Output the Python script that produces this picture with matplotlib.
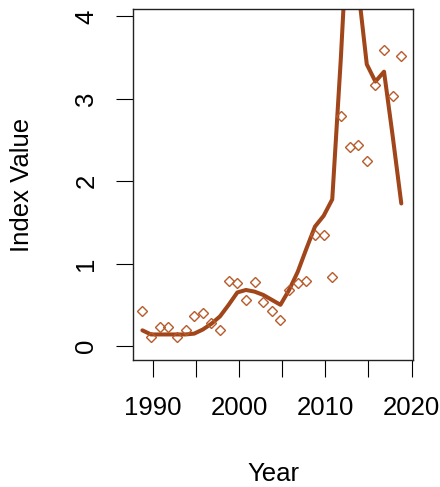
import numpy as np
import matplotlib
matplotlib.use('Agg')
import matplotlib.pyplot as plt

plt.rcParams['font.family'] = ['Liberation Sans', 'DejaVu Sans']

# observed index values (open diamonds)
years = [1988.8, 1989.8, 1990.8, 1991.8, 1992.8, 1993.8, 1994.8, 1995.8,
         1996.8, 1997.8, 1998.8, 1999.8, 2000.8, 2001.8, 2002.8, 2003.8,
         2004.8, 2005.8, 2006.8, 2007.8, 2008.8, 2009.8, 2010.8, 2011.8,
         2012.8, 2013.8, 2014.8, 2015.8, 2016.8, 2017.8, 2018.8]
obs = [0.43, 0.11, 0.23, 0.23, 0.11, 0.20, 0.36, 0.40,
       0.28, 0.19, 0.79, 0.76, 0.56, 0.78, 0.54, 0.42,
       0.32, 0.68, 0.77, 0.79, 1.35, 1.35, 0.84, 2.79,
       2.42, 2.44, 2.25, 3.17, 3.59, 3.03, 3.52]

# fitted index (thick line)
fit = [0.19, 0.14, 0.14, 0.14, 0.14, 0.14, 0.15, 0.20,
       0.27, 0.36, 0.50, 0.65, 0.68, 0.66, 0.62, 0.56,
       0.50, 0.68, 0.90, 1.18, 1.45, 1.58, 1.78, 3.50,
       5.50, 4.35, 3.42, 3.21, 3.33, 2.55, 1.73]

x_ticks = [1990, 1995, 2000, 2005, 2010, 2015, 2020]
x_ticklabels = ['1990', '', '2000', '', '2010', '', '2020']
y_ticks = [0, 1, 2, 3, 4]

fig = plt.figure(figsize=(4.4, 4.87), dpi=100)
ax = fig.add_axes([0.3016, 0.2608, 0.6377, 0.7197])

ax.plot(years, fit, color='#A0461A', lw=2.9, solid_capstyle='round',
        solid_joinstyle='round', zorder=2)
ax.plot(years, obs, linestyle='none', marker='D', markersize=5.6,
        markerfacecolor='none', markeredgecolor='#B85A2A',
        markeredgewidth=1.0, zorder=3)

ax.set_xlim(1987.68, 2020.19)
ax.set_ylim(-0.17, 4.085)

ax.set_xticks(x_ticks)
ax.set_xticklabels(x_ticklabels)
ax.set_yticks(y_ticks)
ax.set_yticklabels([str(v) for v in y_ticks], rotation=90, va='center')

ax.tick_params(axis='both', direction='out', length=12.2, width=0.8,
               labelsize=18.5, colors='black')
ax.tick_params(axis='x', pad=14)
ax.tick_params(axis='y', pad=12.5)

for s in ax.spines.values():
    s.set_linewidth(1.0)
    s.set_color('#222222')

ax.set_xlabel('Year', fontsize=18.5, va='center')
ax.set_ylabel('Index Value', fontsize=18.5, va='center')
ax.xaxis.set_label_coords(0.5, -0.325)
ax.yaxis.set_label_coords(-0.3945, 0.5)

fig.savefig('out.png', dpi=100)
